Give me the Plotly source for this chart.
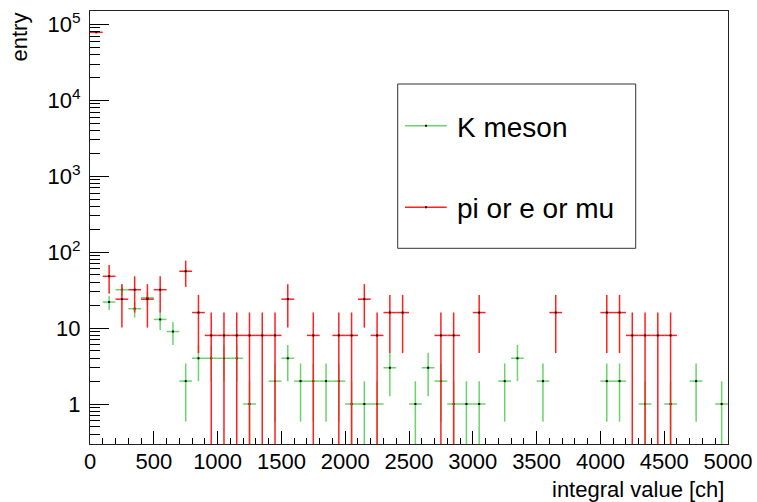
import math
import plotly.graph_objects as go

# Histogram binning: 50 bins of width 100 from 0 to 5000
BIN_WIDTH = 100
X_MIN, X_MAX = 0, 5000
bin_low = list(range(X_MIN, X_MAX, BIN_WIDTH))
bin_centers = [b + BIN_WIDTH / 2 for b in bin_low]

# Bin contents (None = empty bin)
k_meson = [None, 22, 32, 18, 25, 13, 9, 2, 4, 4,
           4, 4, 1, None, 2, 4, 2, 2, 2, 2,
           1, 1, 1, 3, None, 1, 3, 2, 1, 1,
           1, None, 2, 4, None, 2, None, None, None, None,
           2, 2, None, 1, None, 1, None, 2, None, 1]

pi_e_mu = [78400, 48, 24, 32, 24, 32, None, 56, 16, 8,
           8, 8, 8, 8, 8, 24, None, 8, None, 8,
           8, 24, 8, 16, 16, None, None, 8, 8, None,
           16, None, None, None, None, None, 16, None, None, None,
           16, 16, 8, 8, 8, 8, None, None, None, None]

K_WEIGHT = 1
PI_WEIGHT = 8  # each pi/e/mu entry filled with weight 8

labels = ["K meson", "pi or e or mu"]
colors = ["#6ad36a", "#ff2020"]

y_tickvals = [1, 10, 100, 1000, 10000, 100000]
y_ticktext = ["1", "10", "10<sup>2</sup>", "10<sup>3</sup>", "10<sup>4</sup>", "10<sup>5</sup>"]
x_tickvals = list(range(0, 5001, 500))

FONT = "Liberation Sans, Arial, Helvetica, sans-serif"

# Figure geometry (pixels)
W, H = 757, 502
ML, MR, MT, MB = 90, 29, 11, 58
PW, PH = W - ML - MR, H - MT - MB


def px_x(x):
    return (x - ML) / PW


def px_y(y):
    return (H - MB - y) / PH


def hist_trace(values, weight, color):
    xs, ys, errs = [], [], []
    for c, v in zip(bin_centers, values):
        if v is None:
            continue
        xs.append(c)
        ys.append(v)
        # sum of squared weights -> sqrt(weight * content)
        errs.append(math.sqrt(weight * v))
    return go.Scatter(
        x=xs, y=ys, mode="markers",
        marker=dict(symbol="square", size=2, color="black", line=dict(width=0)),
        error_x=dict(type="constant", value=BIN_WIDTH / 2, width=0,
                     color=color, thickness=1.5),
        error_y=dict(type="data", array=errs, arrayminus=errs, symmetric=False,
                     width=0, color=color, thickness=1.5),
        showlegend=False, hoverinfo="x+y",
    )


fig = go.Figure()
fig.add_trace(hist_trace(k_meson, K_WEIGHT, colors[0]))
fig.add_trace(hist_trace(pi_e_mu, PI_WEIGHT, colors[1]))

y_minor = [m * 10 ** d for d in range(-1, 6) for m in range(2, 10)]

fig.update_layout(
    width=W, height=H,
    margin=dict(l=ML, r=MR, t=MT, b=MB, pad=0, autoexpand=False),
    paper_bgcolor="white", plot_bgcolor="white",
    font=dict(family=FONT, size=22, color="black"),
    showlegend=False,
    xaxis=dict(
        range=[X_MIN, X_MAX], tickmode="array", tickvals=x_tickvals,
        ticks="inside", ticklen=13, tickwidth=1, tickcolor="black",
        minor=dict(dtick=BIN_WIDTH, ticks="inside", ticklen=6.5,
                   tickcolor="black", tickwidth=1, showgrid=False),
        showline=True, linecolor="#222222", linewidth=1, mirror=True,
        showgrid=False, zeroline=False, automargin=False,
        tickfont=dict(family=FONT, size=22, color="black"),
        ticklabelstandoff=-2,
    ),
    yaxis=dict(
        type="log", range=[-0.5267, 5.175],
        tickmode="array", tickvals=y_tickvals, ticktext=y_ticktext,
        ticks="inside", ticklen=19, tickwidth=1, tickcolor="black",
        minor=dict(tickmode="array", tickvals=y_minor, ticks="inside",
                   ticklen=9.5, tickcolor="black", tickwidth=1, showgrid=False),
        showline=True, linecolor="#222222", linewidth=1, mirror=True,
        showgrid=False, zeroline=False, automargin=False,
        tickfont=dict(family=FONT, size=22, color="black"),
        ticklabelstandoff=4,
    ),
)

# Axis titles
fig.add_annotation(text="integral value [ch]", xref="paper", yref="paper",
                   x=px_x(725.5), y=px_y(489), xanchor="right", yanchor="middle",
                   showarrow=False, font=dict(family=FONT, size=22, color="black"))
fig.add_annotation(text="entry", xref="paper", yref="paper", textangle=-90,
                   x=px_x(19), y=px_y(37.5), xanchor="center", yanchor="middle",
                   showarrow=False, font=dict(family=FONT, size=22, color="black"))

# Legend box
box = dict(x0=397.7, x1=635.7, y0=84, y1=248.3)
fig.add_shape(type="rect", xref="paper", yref="paper",
              x0=px_x(box["x0"]), x1=px_x(box["x1"]),
              y0=px_y(box["y1"]), y1=px_y(box["y0"]),
              line=dict(color="#333333", width=1), fillcolor="white", layer="above")
entry_y = [125.7, 207.3]
for lab, col, ey in zip(labels, colors, entry_y):
    fig.add_shape(type="line", xref="paper", yref="paper",
                  x0=px_x(405), x1=px_x(446.7), y0=px_y(ey), y1=px_y(ey),
                  line=dict(color=col, width=1.5), layer="above")
    fig.add_shape(type="line", xref="paper", yref="paper",
                  x0=px_x(425), x1=px_x(427), y0=px_y(ey), y1=px_y(ey),
                  line=dict(color="black", width=2), layer="above")
    fig.add_annotation(text=lab, xref="paper", yref="paper",
                       x=px_x(455), y=px_y(ey + 1.5), xanchor="left", yanchor="middle",
                       showarrow=False, font=dict(family=FONT, size=28, color="black"))

fig.write_html("out.html")
